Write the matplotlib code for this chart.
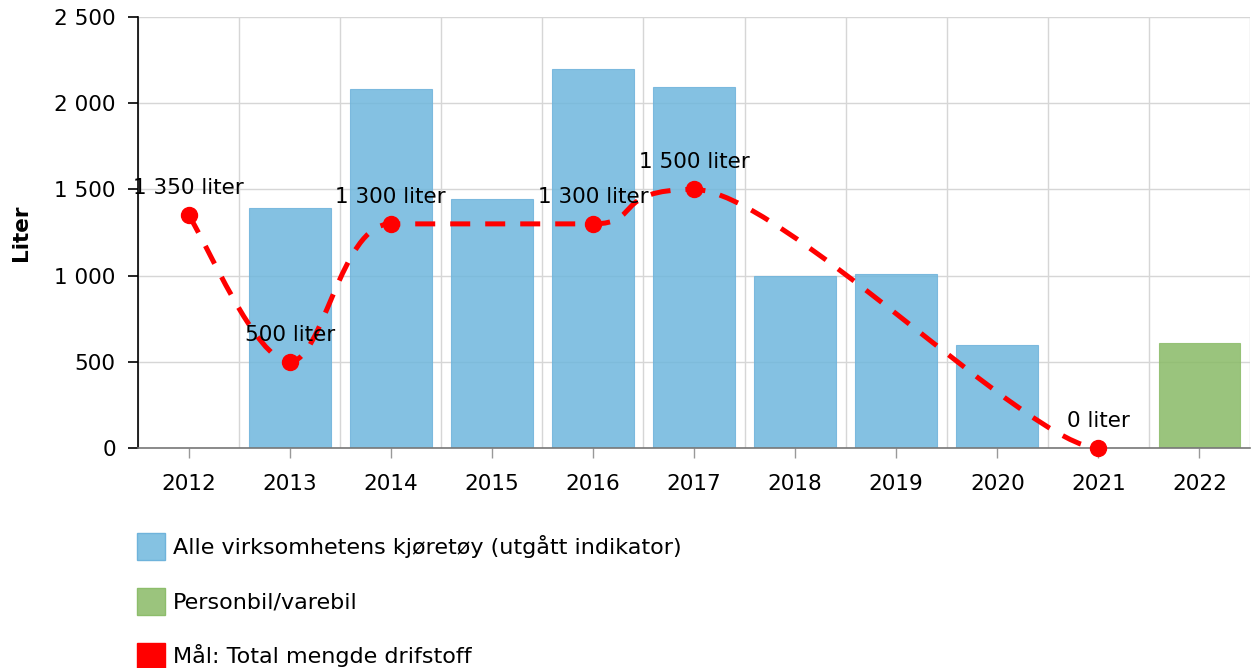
import matplotlib
matplotlib.use("Agg")
from matplotlib import pyplot as plt
from matplotlib.path import Path
from matplotlib.patches import PathPatch, Patch
from matplotlib.ticker import FuncFormatter
import numpy as np

years = ['2012', '2013', '2014', '2015', '2016', '2017', '2018', '2019', '2020', '2021', '2022']

# Alle virksomhetens kjoretoy (one value per year, None = no bar)
all_vehicles = [None, 1390, 2080, 1445, 2200, 2095, 1000, 1010, 600, None, None]
# Personbil/varebil
car_van = [None, None, None, None, None, None, None, None, None, None, 610]
# Target points
target_years = ['2012', '2013', '2014', '2016', '2017', '2021']
target_values = [1350, 500, 1300, 1300, 1500, 0]

blue = '#6fb7dd'
green = '#89ba66'
red = '#ff0000'


def spline_path(xs, ys, k=6.0):
    """Cardinal-style spline, control y clamped so it never overshoots."""
    n = len(xs)
    left = [None] * n
    right = [None] * n
    for i in range(n):
        x, y = xs[i], ys[i]
        if i == 0:
            # first point: only an outgoing control
            right[i] = (x + (xs[1] - x) / k, y + (ys[1] - y) / k)
            continue
        lx, ly = xs[i - 1], ys[i - 1]
        if i == n - 1:
            nx, ny = x, y
        else:
            nx, ny = xs[i + 1], ys[i + 1]
        dx = (nx - lx) / k
        dy = (ny - ly) / k
        lcx, lcy = x - dx, y - dy
        rcx, rcy = x + dx, y + dy
        if lcy > ly and lcy > y:
            lcy = max(ly, y)
            rcy = 2 * y - lcy
        elif lcy < ly and lcy < y:
            lcy = min(ly, y)
            rcy = 2 * y - lcy
        if rcy > ny and rcy > y:
            rcy = max(ny, y)
            lcy = 2 * y - rcy
        elif rcy < ny and rcy < y:
            rcy = min(ny, y)
            lcy = 2 * y - rcy
        left[i] = (lcx, lcy)
        right[i] = (rcx, rcy)
    verts = [(xs[0], ys[0])]
    codes = [Path.MOVETO]
    for i in range(1, n):
        verts += [right[i - 1], left[i], (xs[i], ys[i])]
        codes += [Path.CURVE4] * 3
    return Path(verts, codes)


def fmt_thousands(v, pos=None):
    return '{:,.0f}'.format(v).replace(',', ' ')


plt.rcParams['font.family'] = ['DejaVu Sans']

fig = plt.figure(figsize=(12.55, 6.68), dpi=100)
ax = fig.add_axes([138 / 1255, 1 - 448 / 668, 1112 / 1255, 431 / 668])

x = np.arange(len(years))
bar_w = 0.81

for i, v in enumerate(all_vehicles):
    if v is not None:
        ax.bar(x[i], v, width=bar_w, color=blue, alpha=0.85,
               edgecolor='#6fb3db', linewidth=0.8, zorder=2)
for i, v in enumerate(car_van):
    if v is not None:
        ax.bar(x[i], v, width=bar_w, color=green, alpha=0.85,
               edgecolor='#8dbd6b', linewidth=0.8, zorder=2)

tx = [years.index(y) for y in target_years]
path = spline_path(tx, target_values)
line = PathPatch(path, facecolor='none', edgecolor=red, linewidth=3.6,
                 linestyle=(0, (4, 3)), zorder=3)
line.set_capstyle('butt')
ax.add_patch(line)
ax.plot(tx, target_values, linestyle='none', marker='o', markersize=11.5,
        color=red, zorder=4, clip_on=False)
for xi, v in zip(tx, target_values):
    ax.annotate(fmt_thousands(v) + ' liter', (xi, v), xytext=(0, 19.5),
                textcoords='offset points', ha='center', va='center',
                fontsize=15.5, color='black', zorder=5)

ax.set_xlim(-0.5, len(years) - 0.5)
ax.set_ylim(0, 2500)
ax.set_yticks([0, 500, 1000, 1500, 2000, 2500])
ax.yaxis.set_major_formatter(FuncFormatter(fmt_thousands))
ax.set_xticks(x)
ax.set_xticklabels(years)
ax.set_xticks(np.arange(-0.5, len(years) + 0.5, 1), minor=True)

ax.grid(True, axis='y', color='#d6d6d6', linewidth=1, zorder=0)
ax.grid(True, axis='x', which='minor', color='#d6d6d6', linewidth=1, zorder=0)
ax.set_axisbelow(True)

ax.tick_params(axis='y', length=7, width=1.2, color='black', labelsize=15.5, pad=9)
ax.tick_params(axis='x', which='major', length=7, width=1, color='#999999',
               labelsize=15.5, pad=12)
ax.tick_params(axis='x', which='minor', length=0)

for side in ['top', 'right']:
    ax.spines[side].set_visible(False)
ax.spines['left'].set_color('black')
ax.spines['left'].set_linewidth(1.2)
ax.spines['bottom'].set_color('#777777')
ax.spines['bottom'].set_linewidth(1.2)

ax.set_ylabel('Liter', fontsize=15.5, fontweight='bold', labelpad=17)

handles = [
    Patch(facecolor='#85c2e2', edgecolor='#6fb3db', linewidth=1),
    Patch(facecolor='#9bc47d', edgecolor='#8dbd6b', linewidth=1),
    Patch(facecolor=red, edgecolor=red, linewidth=1),
]
labels = ['Alle virksomhetens kjøretøy (utgått indikator)',
          'Personbil/varebil',
          'Mål: Total mengde drifstoff']
fig.legend(handles, labels, loc='upper left',
           bbox_to_anchor=(137 / 1255, 1 - 533 / 668), frameon=False,
           fontsize=16, handlelength=1.26, handleheight=1.48,
           handletextpad=0.36, labelspacing=1.26, borderpad=0,
           borderaxespad=0)

fig.savefig('out.png', dpi=100)
